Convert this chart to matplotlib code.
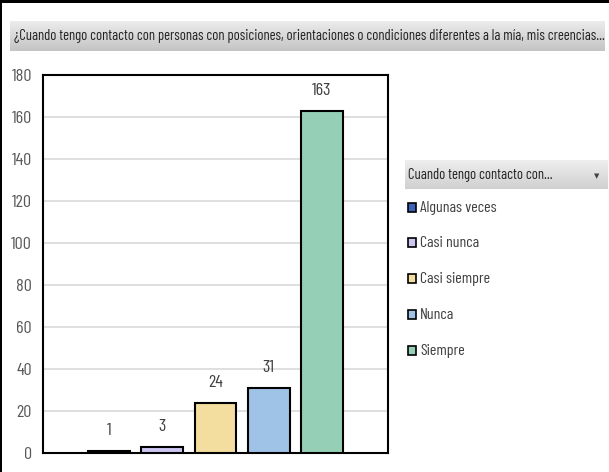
import matplotlib.pyplot as plt
import numpy as np
from matplotlib import font_manager
from matplotlib.colors import LinearSegmentedColormap
from matplotlib.patches import Rectangle

# Data
categories = ["Algunas veces", "Casi nunca", "Casi siempre", "Nunca", "Siempre"]
values = [1, 3, 24, 31, 163]
colors = ["#3b62b8", "#cbc5f2", "#f3dea0", "#9ec3e6", "#95cfb6"]
title = ("¿Cuando tengo contacto con personas con posiciones, orientaciones o "
         "condiciones diferentes a la mía, mis creencias...")
legend_title = "Cuando tengo contacto con..."
yticks = list(range(0, 181, 20))

# a narrow sans, like the Excel screenshot
names = {f.name for f in font_manager.fontManager.ttflist
         if f.weight in (400, "normal", "regular") and f.style == "normal"}
family = "DejaVu Sans"
for cand in ["Barlow Condensed", "Roboto Condensed", "PT Sans Narrow",
             "Archivo Narrow", "Liberation Sans Narrow"]:
    if cand in names:
        family = cand
        break
plt.rcParams["font.family"] = [family, "DejaVu Sans"]
plt.rcParams["font.weight"] = "normal"
FS = 11

W, H = 609, 472
fig = plt.figure(figsize=(W / 100, H / 100), dpi=100)

# Outer frame (top and left edges)
fig.add_artist(Rectangle((0, 1 - 3 / H), 1, 3 / H, transform=fig.transFigure,
                         color="black", lw=0))
fig.add_artist(Rectangle((0, 0), 2 / W, 1, transform=fig.transFigure,
                         color="black", lw=0))

# Title band with gradient
grad = np.linspace(0, 1, 50).reshape(-1, 1)
tax = fig.add_axes([10 / W, 1 - 51 / H, 595 / W, 30 / H])
tax.imshow(grad, aspect="auto", extent=[0, 1, 0, 1],
           cmap=LinearSegmentedColormap.from_list("g", ["#ececec", "#c4c4c4"]))
tax.set_axis_off()
t = tax.text(0.006, 0.5, title, ha="left", va="center", fontsize=FS,
             color="#222222", transform=tax.transAxes)
# fit the title to the band like the reference (~586 px)
r = fig.canvas.get_renderer()
tw = t.get_window_extent(renderer=r).width
t.set_fontsize(min(FS * 586 / tw, 12))

# Legend header band
lax = fig.add_axes([405 / W, 1 - 189 / H, 203 / W, 29 / H])
lax.imshow(grad, aspect="auto", extent=[0, 1, 0, 1],
           cmap=LinearSegmentedColormap.from_list("g2", ["#eeeeee", "#d0d0d0"]))
lax.set_axis_off()
lax.text(0.015, 0.5, legend_title, ha="left", va="center", fontsize=10.5,
         color="#222222", transform=lax.transAxes)
lax.text(0.945, 0.45, "▼", ha="center", va="center", fontsize=5,
         color="#444444", transform=lax.transAxes, family="DejaVu Sans")

# Main plot
ax = fig.add_axes([43 / W, 1 - 453 / H, 345 / W, 378 / H])
x = np.arange(len(categories))
ax.bar(x, values, width=0.79, color=colors, edgecolor="black", linewidth=1.5,
       zorder=3)
for xi, v in zip(x, values):
    ax.text(xi, v + 9.5, str(v), ha="center", va="center", fontsize=13,
            color="#404040")
ax.set_xlim(-1.25, 5.25)
ax.set_ylim(0, 180)
ax.set_yticks(yticks)
ax.set_xticks([])
ax.tick_params(axis="y", length=0, labelsize=13, labelcolor="#595959", pad=8)
ax.grid(axis="y", color="#d9d9d9", linewidth=1.2, zorder=0)
for s in ax.spines.values():
    s.set_color("black")
    s.set_linewidth(1.5)

# Legend entries
entry_y = [208, 243, 279, 315, 351]
for name, c, yy in zip(categories, colors, entry_y):
    fig.add_artist(Rectangle((408 / W, 1 - (yy + 4) / H), 8 / W, 9 / H,
                             transform=fig.transFigure, facecolor=c,
                             edgecolor="black", lw=1.2))
    fig.text(420 / W, 1 - yy / H, name, ha="left", va="center", fontsize=11.5,
             color="#404040")

fig.savefig("out.png", dpi=100)
